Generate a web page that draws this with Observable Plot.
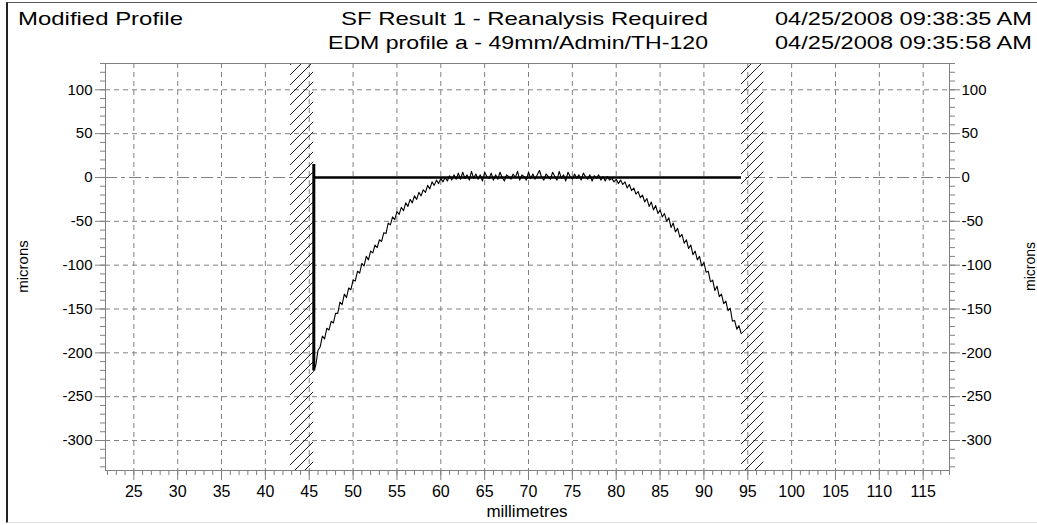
<!DOCTYPE html>
<html><head><meta charset="utf-8">
<script src="https://cdn.jsdelivr.net/npm/d3@7"></script>
<script src="https://cdn.jsdelivr.net/npm/@observablehq/plot@0.6"></script>
<style>
html,body{margin:0;padding:0;background:#fff;}
#wrap{position:relative;width:1037px;height:525px;overflow:hidden;font-family:"Liberation Sans",Arial,sans-serif;}
#border{position:absolute;left:6px;top:2px;width:1040px;height:519px;border-left:2px solid #222;border-top:1px solid #555;border-bottom:1px solid #ddd;}
#chart{position:absolute;left:0;top:55px;}
#overlay{position:absolute;left:0;top:0;pointer-events:none;}
</style></head>
<body>
<div id="wrap"><div id="border"></div><div id="chart"></div><svg id="overlay" width="1037" height="525"></svg></div>
<script>
// ---- text ----
const titleLeft = "Modified Profile";
const titleCenter = ["SF Result 1 - Reanalysis Required", "EDM profile a - 49mm/Admin/TH-120"];
const titleRight = ["04/25/2008 09:38:35 AM", "04/25/2008 09:35:58 AM"];
const yLabel = "microns";
const xLabel = "millimetres";

// ---- ticks ----
const xTicks = [25, 30, 35, 40, 45, 50, 55, 60, 65, 70, 75, 80, 85, 90, 95, 100, 105, 110, 115];
const yTicks = [-300, -250, -200, -150, -100, -50, 0, 50, 100];
const gridYTicks = [-300, -250, -200, -150, -100, -50, 50, 100];
const zeroLine = [0];
const minorXTicks = d3.range(22, 119, 1);
const minorYTicks = d3.range(-330, 131, 10);

// ---- profile (sampled every 0.25 mm from 45.5 mm) ----
const profileStart = 45.5;
const profileStep = 0.25;
const profileMicrons = [
  -221, -214, -197, -193, -181, -184, -172, -174, -164, -166,
  -155, -155, -142, -145, -133, -137, -126, -128, -117, -118,
  -107, -109, -98, -101, -90, -94, -84, -86, -77, -80,
  -71, -73, -63, -64, -52, -54, -45, -48, -39, -42,
  -34, -38, -29, -33, -25, -29, -21, -25, -17, -21,
  -14, -17, -9, -13, -5, -9, -3, -7, -1, -5,
  0, -4, 2, -3, 3, -2, 5, -2, 6, -1,
  3, -3, 7, -1, 4, -2, 3, -4, 6, 1,
  -1, 5, -3, 3, -2, 6, 0, -4, 3, 1,
  -2, 4, 0, 7, -3, 3, 1, -3, 6, -1,
  4, -2, 3, 8, 0, -3, 4, 1, -2, 6,
  1, -3, 7, -1, 3, -4, 6, 1, -2, 4,
  -1, 3, -3, 5, 1, -2, 3, -4, 2, -1,
  3, -3, 1, -4, 1, -3, -1, -5, -2, -7,
  -3, -8, -5, -12, -8, -15, -12, -19, -16, -23,
  -20, -28, -24, -33, -28, -37, -32, -41, -37, -45,
  -41, -50, -46, -57, -52, -62, -58, -68, -65, -75,
  -71, -81, -77, -88, -84, -94, -90, -101, -97, -108,
  -107, -119, -117, -129, -124, -136, -133, -144, -141, -152,
  -149, -164, -163, -173, -169, -178
];

// ---- exclusion zones, nominal line and datum ----
const hatchStart = [42.87, 94.28];
const hatchEnd = [45.5, 96.83];
const nominalY = [0];
const nominalX1 = [45.52];
const nominalX2 = [94.28];
const datumX = [45.52];
const datumTop = [14.8];
const datumBottom = [-220.5];

const profile = profileMicrons.map((y, i) => ({x: profileStart + i * profileStep, y}));
const hatch = hatchStart.map((x1, i) => ({x1, x2: hatchEnd[i]}));
const nominal = nominalY.map((y, i) => ({y, x1: nominalX1[i], x2: nominalX2[i]}));
const datum = datumX.map((x, i) => ({x, y1: datumBottom[i], y2: datumTop[i]}));

const gray = "#808080";
const fmt = d => String(d);

const plot = Plot.plot({
  width: 1037, height: 470,
  marginTop: 8, marginBottom: 55, marginLeft: 105, marginRight: 88,
  x: {domain: [21.77, 118], label: null},
  y: {domain: [-334.2, 130], label: null},
  style: {fontFamily: "'Liberation Sans', Arial, sans-serif", fontSize: "15px", background: "transparent", color: "black", overflow: "visible"},
  marks: [
    Plot.gridX(xTicks, {stroke: gray, strokeOpacity: 1, strokeDasharray: "5,4"}),
    Plot.gridY(gridYTicks, {stroke: gray, strokeOpacity: 1, strokeDasharray: "5,4"}),
    Plot.ruleY(zeroLine, {stroke: gray, strokeDasharray: "12,4,4,4"}),
    Plot.rect(hatch, {x1: "x1", x2: "x2", fill: "url(#hatch)"}),
    Plot.line(profile, {x: "x", y: "y", stroke: "black", strokeWidth: 1.1}),
    Plot.ruleY(nominal, {y: "y", x1: "x1", x2: "x2", stroke: "black", strokeWidth: 2.5}),
    Plot.ruleX(datum, {x: "x", y1: "y1", y2: "y2", stroke: "black", strokeWidth: 3}),
    Plot.frame({stroke: gray}),
    Plot.axisX(minorXTicks, {anchor: "bottom", tickSize: 5, tickFormat: () => "", stroke: gray, label: null}),
    Plot.axisX(xTicks, {anchor: "bottom", tickSize: 10, tickPadding: 5, tickFormat: fmt, stroke: gray, fill: "black", fontSize: 16, label: null}),
    Plot.axisY(minorYTicks, {anchor: "left", tickSize: 5, tickFormat: () => "", stroke: gray, label: null}),
    Plot.axisY(yTicks, {anchor: "left", tickSize: 10, tickPadding: 3, tickFormat: fmt, stroke: gray, fill: "black", fontSize: 15, label: null}),
    Plot.axisY(minorYTicks, {anchor: "right", tickSize: 5, tickFormat: () => "", stroke: gray, label: null}),
    Plot.axisY(yTicks, {anchor: "right", tickSize: 10, tickPadding: 2, tickFormat: fmt, stroke: gray, fill: "black", fontSize: 15, label: null})
  ]
});

const defs = d3.select(plot).insert("defs", ":first-child");
const pat = defs.append("pattern").attr("id", "hatch").attr("patternUnits", "userSpaceOnUse")
  .attr("width", 10).attr("height", 10);
pat.append("path").attr("d", "M-1,1 l2,-2 M0,10 l10,-10 M9,11 l2,-2")
  .attr("stroke", "black").attr("stroke-width", 0.9).attr("fill", "none");

document.getElementById("chart").appendChild(plot);

// ---- overlay texts ----
const ov = d3.select("#overlay").style("font-family", "'Liberation Sans', Arial, sans-serif");
function t(txt, x, y, size, len, anchor) {
  const e = ov.append("text").attr("x", x).attr("y", y).attr("font-size", size).attr("fill", "black").text(txt);
  if (len) e.attr("textLength", len).attr("lengthAdjust", "spacingAndGlyphs");
  if (anchor) e.attr("text-anchor", anchor);
  return e;
}
t(titleLeft, 18, 25, 19, 165);
t(titleCenter[0], 341, 25, 19, 367);
t(titleCenter[1], 328, 49, 19, 380);
t(titleRight[0], 775, 25, 19, 257);
t(titleRight[1], 775, 49, 19, 257);
t(xLabel, 527, 517, 17, null, "middle");
ov.append("text").attr("transform", "translate(28,266.5) rotate(-90)").attr("text-anchor", "middle")
  .attr("font-size", 15).attr("fill", "black").text(yLabel);
ov.append("text").attr("transform", "translate(1035,266.5) rotate(-90)").attr("text-anchor", "middle")
  .attr("font-size", 14).attr("fill", "black").text(yLabel);
</script>
</body></html>
